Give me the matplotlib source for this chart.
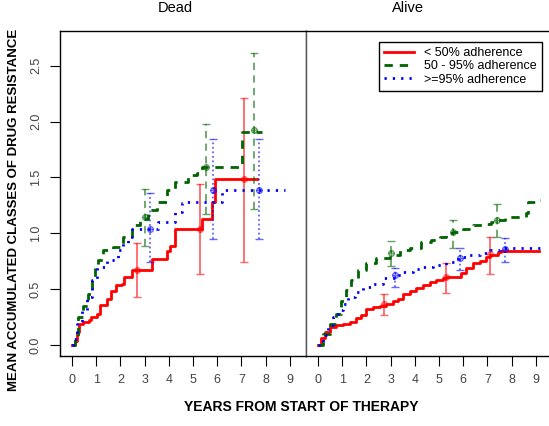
import matplotlib
matplotlib.use('Agg')
import matplotlib.pyplot as plt

plt.rcParams['font.family'] = ['Liberation Sans', 'DejaVu Sans']

# ---- dados: painel "Dead" ----
dead_red_x = [0, 0.1, 0.2, 0.3, 0.45, 0.7, 0.8, 1.05, 1.15, 1.45, 1.6, 1.8, 2.05, 2.15, 2.47, 3.29, 3.5, 3.91, 4.05, 4.26, 5.22, 5.36, 5.63, 5.77, 5.91, 7.63]
dead_red_y = [0.0, 0.04, 0.12, 0.19, 0.21, 0.22, 0.25, 0.28, 0.36, 0.41, 0.48, 0.54, 0.55, 0.61, 0.67, 0.77, 0.77, 0.84, 0.89, 1.04, 1.04, 1.13, 1.13, 1.28, 1.49, 1.49]
dead_green_x = [0, 0.1, 0.26, 0.45, 0.67, 0.81, 0.95, 1.09, 1.29, 1.71, 2.12, 2.47, 2.81, 3.15, 3.5, 3.91, 4.26, 4.81, 5.15, 5.36, 6.94, 7.01, 7.84]
dead_green_y = [0.0, 0.05, 0.25, 0.35, 0.46, 0.61, 0.70, 0.76, 0.85, 0.88, 0.97, 1.07, 1.13, 1.21, 1.28, 1.39, 1.46, 1.52, 1.54, 1.59, 1.59, 1.91, 1.91]
dead_blue_x = [0, 0.05, 0.19, 0.4, 0.61, 0.81, 1.02, 1.43, 1.78, 1.91, 2.12, 2.33, 2.47, 3.57, 4.19, 4.26, 4.53, 4.74, 6.12, 6.19, 8.8]
dead_blue_y = [0.0, 0.05, 0.19, 0.31, 0.43, 0.58, 0.70, 0.76, 0.78, 0.85, 0.91, 0.97, 1.04, 1.10, 1.10, 1.19, 1.27, 1.28, 1.28, 1.39, 1.39]

dead_red_err_x = [2.7, 5.29, 7.12]
dead_red_err_m = [0.67, 1.04, 1.49]
dead_red_err_lo = [0.43, 0.635, 0.745]
dead_red_err_hi = [0.91, 1.44, 2.21]
dead_green_err_x = [3.02, 5.54, 7.52]
dead_green_err_m = [1.15, 1.59, 1.92]
dead_green_err_lo = [0.89, 1.17, 1.22]
dead_green_err_hi = [1.40, 1.98, 2.61]
dead_blue_err_x = [3.22, 5.84, 7.74]
dead_blue_err_m = [1.04, 1.39, 1.39]
dead_blue_err_lo = [0.74, 0.95, 0.95]
dead_blue_err_hi = [1.36, 1.84, 1.84]

# ---- dados: painel "Alive" ----
alive_red_x = [0, 0.14, 0.27, 0.48, 0.76, 1.03, 1.31, 1.58, 1.79, 2.0, 2.27, 2.55, 2.82, 3.1, 3.3, 3.51, 3.79, 4.06, 4.34, 4.61, 4.89, 5.16, 5.3, 5.78, 5.92, 6.13, 6.4, 6.68, 6.96, 7.09, 7.44, 7.57, 9.12]
alive_red_y = [0.0, 0.06, 0.12, 0.16, 0.18, 0.19, 0.21, 0.24, 0.27, 0.32, 0.34, 0.35, 0.37, 0.39, 0.41, 0.46, 0.48, 0.51, 0.54, 0.56, 0.58, 0.60, 0.61, 0.61, 0.645, 0.685, 0.735, 0.753, 0.79, 0.81, 0.835, 0.84, 0.84]
alive_green_x = [0, 0.2, 0.48, 0.76, 0.96, 1.17, 1.38, 1.65, 2.0, 2.41, 2.96, 3.37, 3.79, 4.27, 4.68, 5.03, 5.3, 5.58, 6.0, 6.4, 6.82, 7.16, 7.44, 7.71, 8.13, 8.6, 8.67, 9.02, 9.16]
alive_green_y = [0.0, 0.10, 0.19, 0.28, 0.39, 0.49, 0.58, 0.67, 0.73, 0.775, 0.805, 0.85, 0.87, 0.925, 0.94, 0.97, 1.0, 1.01, 1.04, 1.07, 1.08, 1.10, 1.12, 1.15, 1.15, 1.18, 1.28, 1.30, 1.30]
alive_blue_x = [0, 0.2, 0.41, 0.62, 0.82, 1.03, 1.24, 1.51, 1.86, 2.27, 2.69, 3.17, 3.51, 3.92, 4.34, 4.75, 5.3, 5.78, 6.13, 6.68, 7.09, 7.51, 9.16]
alive_blue_y = [0.0, 0.09, 0.18, 0.25, 0.31, 0.37, 0.43, 0.478, 0.52, 0.55, 0.596, 0.626, 0.656, 0.676, 0.695, 0.716, 0.745, 0.784, 0.805, 0.82, 0.85, 0.864, 0.864]

alive_red_err_x = [2.71, 5.3, 7.09]
alive_red_err_m = [0.366, 0.61, 0.815]
alive_red_err_lo = [0.27, 0.468, 0.635]
alive_red_err_hi = [0.456, 0.735, 0.97]
alive_green_err_x = [3.03, 5.58, 7.41]
alive_green_err_m = [0.82, 1.01, 1.12]
alive_green_err_lo = [0.707, 0.87, 0.97]
alive_green_err_hi = [0.933, 1.12, 1.26]
alive_blue_err_x = [3.2, 5.85, 7.71]
alive_blue_err_m = [0.626, 0.78, 0.855]
alive_blue_err_lo = [0.52, 0.67, 0.74]
alive_blue_err_hi = [0.69, 0.87, 0.96]

labels = ['< 50% adherence', '50 - 95% adherence', '>=95% adherence']
cores = ['#ff0000', '#006400', '#0000ff']
x_ticks = list(range(10))
y_ticks = [0.0, 0.5, 1.0, 1.5, 2.0, 2.5]

fig = plt.figure(figsize=(5.49, 4.26), dpi=100)
ax1 = fig.add_axes([60/549, 1-356/426, 246/549, 325/426])
ax2 = fig.add_axes([306/549, 1-356/426, 246/549, 325/426])


def linha(ax, x, y, cor, estilo, label=None):
    kw = dict(color=cor, lw=2, drawstyle='steps-post', label=label)
    if estilo == 'dash':
        kw['dashes'] = (3, 2.5)
    elif estilo == 'dot':
        kw['dashes'] = (0.8, 2.2)
    ax.plot(x, y, **kw)


def barras(ax, x, m, lo, hi, cor, ls):
    err = [[a - b for a, b in zip(m, lo)], [b - a for a, b in zip(m, hi)]]
    eb = ax.errorbar(x, m, yerr=err, fmt='o', ms=4, mfc='none', mec=cor, mew=1,
                     ecolor=cor, elinewidth=1.3, capsize=3, capthick=1.2, alpha=0.6)
    eb[2][0].set_linestyle(ls)
    ax.plot(x, m, '+', color=cor, ms=4, mew=1, alpha=0.6)


for ax, series, errs in [
    (ax1,
     [(dead_red_x, dead_red_y), (dead_green_x, dead_green_y), (dead_blue_x, dead_blue_y)],
     [(dead_red_err_x, dead_red_err_m, dead_red_err_lo, dead_red_err_hi),
      (dead_green_err_x, dead_green_err_m, dead_green_err_lo, dead_green_err_hi),
      (dead_blue_err_x, dead_blue_err_m, dead_blue_err_lo, dead_blue_err_hi)]),
    (ax2,
     [(alive_red_x, alive_red_y), (alive_green_x, alive_green_y), (alive_blue_x, alive_blue_y)],
     [(alive_red_err_x, alive_red_err_m, alive_red_err_lo, alive_red_err_hi),
      (alive_green_err_x, alive_green_err_m, alive_green_err_lo, alive_green_err_hi),
      (alive_blue_err_x, alive_blue_err_m, alive_blue_err_lo, alive_blue_err_hi)]),
]:
    estilos = ['solid', 'dash', 'dot']
    ls_err = ['-', (0, (4, 3)), (0, (1, 1.5))]
    for i in range(3):
        linha(ax, series[i][0], series[i][1], cores[i], estilos[i], labels[i])
        barras(ax, *errs[i], cores[i], ls_err[i])
    ax.set_xlim(-0.5, 9.67)
    ax.set_ylim(-0.098, 2.81)
    ax.set_xticks(x_ticks)
    ax.tick_params(axis='both', direction='out', length=7, width=0.8, labelsize=9,
                   labelcolor='#444444', pad=6)
    for s in ax.spines.values():
        s.set_linewidth(1)

ax1.set_yticks(y_ticks)
ax1.set_yticklabels(['%.1f' % v for v in y_ticks], rotation=90, va='center')
ax2.set_yticks([])
ax2.spines['left'].set_color('#555555')
ax1.spines['right'].set_color('#555555')

ax2.legend(loc='upper right', bbox_to_anchor=(0.985, 0.985), fontsize=9,
           frameon=True, fancybox=False, edgecolor='black', framealpha=1,
           handlelength=2.4, borderpad=0.4, labelspacing=0.1)
ax2.get_legend().get_frame().set_linewidth(1)

fig.text(175/549, 1-8/426, 'Dead', ha='center', va='center', fontsize=10.5)
fig.text(408/549, 1-8/426, 'Alive', ha='center', va='center', fontsize=10.5)
fig.text(301/549, 1-407/426, 'YEARS FROM START OF THERAPY', ha='center', va='center',
         fontsize=10, fontweight='bold')
fig.text(14/549, 1-210/426, 'MEAN ACCUMULATED CLASSES OF DRUG RESISTANCE', ha='center',
         va='center', rotation=90, fontsize=9.5, fontweight='bold')

plt.savefig('out.png', dpi=100)
